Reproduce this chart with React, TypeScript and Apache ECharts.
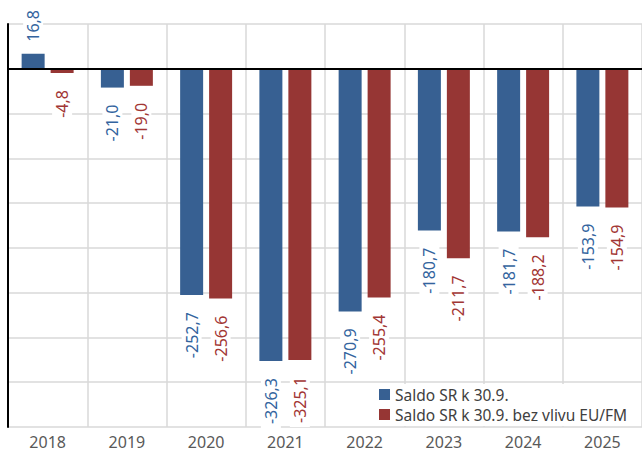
import React, { useEffect, useRef } from "react";
import * as echarts from "echarts";

const categories = ["2018", "2019", "2020", "2021", "2022", "2023", "2024", "2025"];
const saldo = [16.8, -21.0, -252.7, -326.3, -270.9, -180.7, -181.7, -153.9];
const saldoBezEU = [-4.8, -19.0, -256.6, -325.1, -255.4, -211.7, -188.2, -154.9];
const seriesNames = ["Saldo SR k 30.9.", "Saldo SR k 30.9. bez vlivu EU/FM"];

const BLUE = "#376092";
const RED = "#963634";
const BLUE_TXT = "#33649e";
const RED_TXT = "#a23634";
const FONT = "Noto Sans";

function fmt(v: number) {
  return v.toFixed(1).replace(".", ",");
}

function makeData(values: number[], color: string) {
  return values.map((v) => ({
    value: v,
    label: {
      show: true,
      position: v >= 0 ? "top" : "bottom",
      rotate: 90,
      align: v >= 0 ? "left" : "right",
      verticalAlign: "middle",
      distance: v >= 0 ? 8 : 13,
      color,
      fontFamily: FONT,
      fontSize: 16,
      backgroundColor: "#ffffff",
      padding: [2, 4],
      formatter: () => fmt(v),
    },
  }));
}

export default function App() {
  const ref = useRef<HTMLDivElement>(null);
  useEffect(() => {
    if (!ref.current) return;
    const chart = echarts.init(ref.current, undefined, { renderer: "svg" });
    chart.setOption({
      animation: false,
      backgroundColor: "#ffffff",
      grid: { left: 8, right: 0, top: 24, bottom: 32, containLabel: false },
      legend: {
        orient: "vertical",
        left: 368,
        top: 384,
        backgroundColor: "#ffffff",
        padding: [2, 4, 3, 11],
        itemWidth: 11,
        itemHeight: 11,
        itemGap: 3,
        icon: "rect",
        textStyle: { fontFamily: FONT, fontSize: 15.5, lineHeight: 17, color: "#404040" },
        data: seriesNames,
      },
      xAxis: {
        type: "category",
        data: categories,
        axisLine: { show: false, onZero: false },
        axisTick: { show: false },
        splitLine: { show: true, lineStyle: { color: "#d9d9d9", width: 1.5 } },
        axisLabel: { fontFamily: FONT, fontSize: 16, color: "#595959", margin: 7 },
      },
      yAxis: {
        type: "value",
        min: -400,
        max: 50,
        interval: 50,
        axisLine: { show: true, lineStyle: { color: "#000000", width: 2 } },
        axisTick: { show: false },
        axisLabel: { show: false },
        splitLine: { show: true, lineStyle: { color: "#d9d9d9", width: 1.5 } },
      },
      series: [
        {
          name: seriesNames[0],
          type: "bar",
          barWidth: 23,
          barGap: "26%",
          itemStyle: { color: BLUE },
          data: makeData(saldo, BLUE_TXT),
          markLine: {
            silent: true,
            symbol: "none",
            label: { show: false },
            lineStyle: { color: "#000000", width: 2, type: "solid" },
            data: [{ yAxis: 0 }],
            z: 10,
          },
        },
        {
          name: seriesNames[1],
          type: "bar",
          barWidth: 23,
          barGap: "26%",
          itemStyle: { color: RED },
          data: makeData(saldoBezEU, RED_TXT),
        },
      ],
    });
    return () => chart.dispose();
  }, []);
  return (
    <div
      ref={ref}
      style={{ position: "absolute", left: 0, top: 0, width: 642, height: 459 }}
    />
  );
}
